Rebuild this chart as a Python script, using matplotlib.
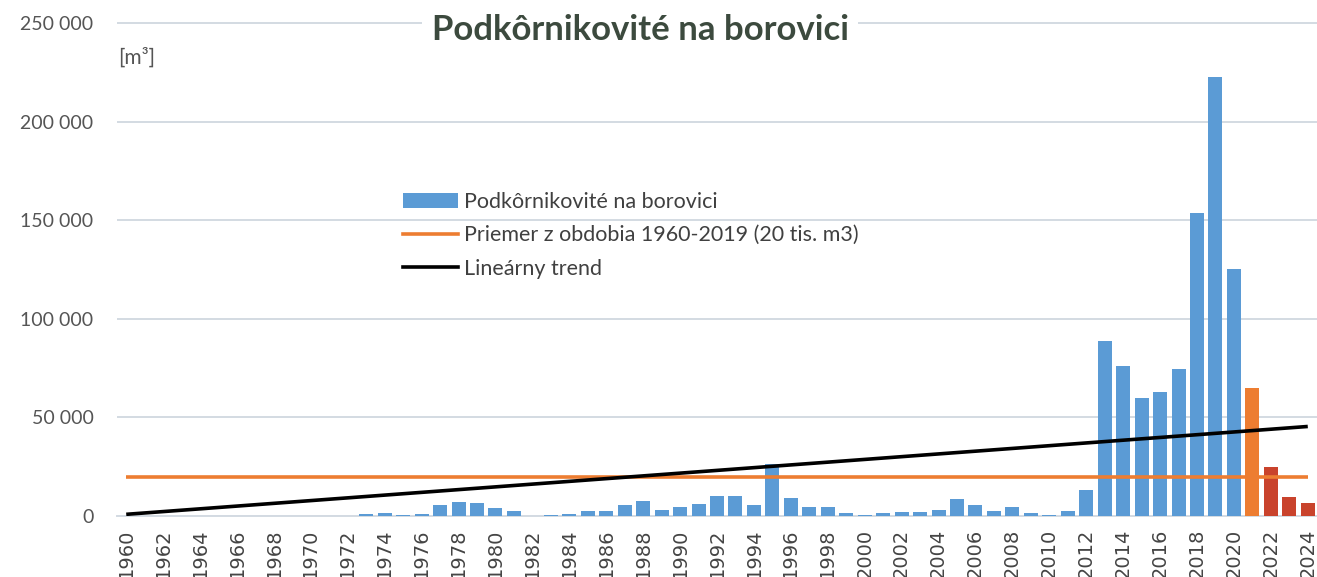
import matplotlib
matplotlib.use("Agg")
import matplotlib.pyplot as plt
from matplotlib import font_manager as fm
from matplotlib.patches import Patch, Rectangle
from matplotlib.lines import Line2D

# ---- data ----
years = list(range(1960, 2025))
values = [0, 0, 0, 0, 0, 0, 0, 0, 0, 0,          # 1960-1969
          0, 0, 0, 1000, 1500, 300, 1000, 5700, 7100, 6400,   # 1970-1979
          3900, 2500, 0, 700, 1200, 2700, 2700, 5800, 7600, 3200,  # 1980-1989
          4400, 6300, 10000, 10000, 5800, 26300, 9300, 4400, 4400, 1700,  # 1990-1999
          600, 1300, 1900, 1900, 3200, 8400, 5800, 2400, 4500, 1300,  # 2000-2009
          500, 2400, 13100, 88700, 76300, 59700, 62700, 74500, 153800, 222700,  # 2010-2019
          125100, 64900, 24600, 9400, 6400]               # 2020-2024
average_value = 20000
trend_years = [1960, 2024]
trend_values = [850, 45400]
xtick_years = list(range(1960, 2025, 2))
ytick_values = [0, 50000, 100000, 150000, 200000, 250000]

title = "Podkôrnikovité na borovici"
unit = "[m³]"
legend_labels = ["Podkôrnikovité na borovici",
                 "Priemer z obdobia 1960-2019 (20 tis. m3)",
                 "Lineárny trend"]

# ---- styles ----
BLUE = "#5b9bd5"
ORANGE = "#ed7d31"
RED = "#c9432c"
GRID = "#d3dae2"

available = {f.name for f in fm.fontManager.ttflist}
narrow = "Liberation Sans Narrow" if "Liberation Sans Narrow" in available else "DejaVu Sans"
main_font = "Lato" if "Lato" in available else "DejaVu Sans"

W, H = 1317, 577
fig = plt.figure(figsize=(W / 100, H / 100), dpi=100)
ymax = 252000
px_per = (516 - 23) / 250000
top_px = 516 - ymax * px_per
ax = fig.add_axes([117 / W, (H - 516) / H, (W - 117) / W, (516 - top_px) / H])

colors = []
for y in years:
    if y == 2021:
        colors.append(ORANGE)
    elif y > 2021:
        colors.append(RED)
    else:
        colors.append(BLUE)

ax.bar(years, values, width=0.76, color=colors, zorder=3)
ax.plot([years[0], years[-1]], [average_value, average_value], color=ORANGE, lw=2.6, zorder=4,
        solid_capstyle="butt")
ax.plot(trend_years, trend_values, color="black", lw=2.6, zorder=5, solid_capstyle="butt")

ax.set_xlim(1959.5, 2024.5)
ax.set_ylim(0, ymax)
ax.set_yticks(ytick_values)
ax.set_yticklabels([f"{v:,}".replace(",", " ") for v in ytick_values],
                   fontsize=14, color="#555555", family=[main_font, "DejaVu Sans"])
ax.set_xticks(xtick_years)
ax.set_xticklabels([str(y) for y in xtick_years], rotation=90, fontsize=14,
                   color="#444444", family=[narrow, "DejaVu Sans"])
ax.tick_params(length=0)
ax.tick_params(axis="x", pad=9)
ax.tick_params(axis="y", pad=17)
ax.grid(axis="y", color=GRID, lw=1.4, zorder=0)
for s in ["top", "right", "left"]:
    ax.spines[s].set_visible(False)
ax.spines["bottom"].set_color(GRID)
ax.spines["bottom"].set_linewidth(1.4)
ax.set_facecolor("white")

# white area behind the legend (hides the 150 000 gridline there)
ax.add_patch(Rectangle((330 / W, 1 - 300 / H), 630 / W, 120 / H, transform=fig.transFigure,
                       facecolor="white", edgecolor="none", zorder=1))

# title with white background covering gridline
fig.text(640 / W, 1 - 40 / H, title, ha="center", va="baseline", fontsize=25, fontweight="bold",
         color="#3c4a3e", family=[main_font, "DejaVu Sans"],
         bbox=dict(facecolor="white", edgecolor="none", pad=7))
fig.text(118 / W, 1 - 58 / H, unit, ha="left", va="center", fontsize=15, color="#555555",
         family=[main_font, "DejaVu Sans"])

handles = [Patch(facecolor=BLUE, edgecolor="none"),
           Line2D([0], [0], color=ORANGE, lw=2.6),
           Line2D([0], [0], color="black", lw=2.6)]
leg = fig.legend(handles, legend_labels, loc="upper left",
                 bbox_to_anchor=(403 / W, 1 - 192 / H),
                 frameon=False, handlelength=2.55, handletextpad=0.3,
                 labelspacing=0.62, borderpad=0, borderaxespad=0,
                 prop={"family": [main_font, "DejaVu Sans"], "size": 15.5})
for t in leg.get_texts():
    t.set_color("#404040")
leg.set_zorder(10)

fig.savefig("out.png", dpi=100)
